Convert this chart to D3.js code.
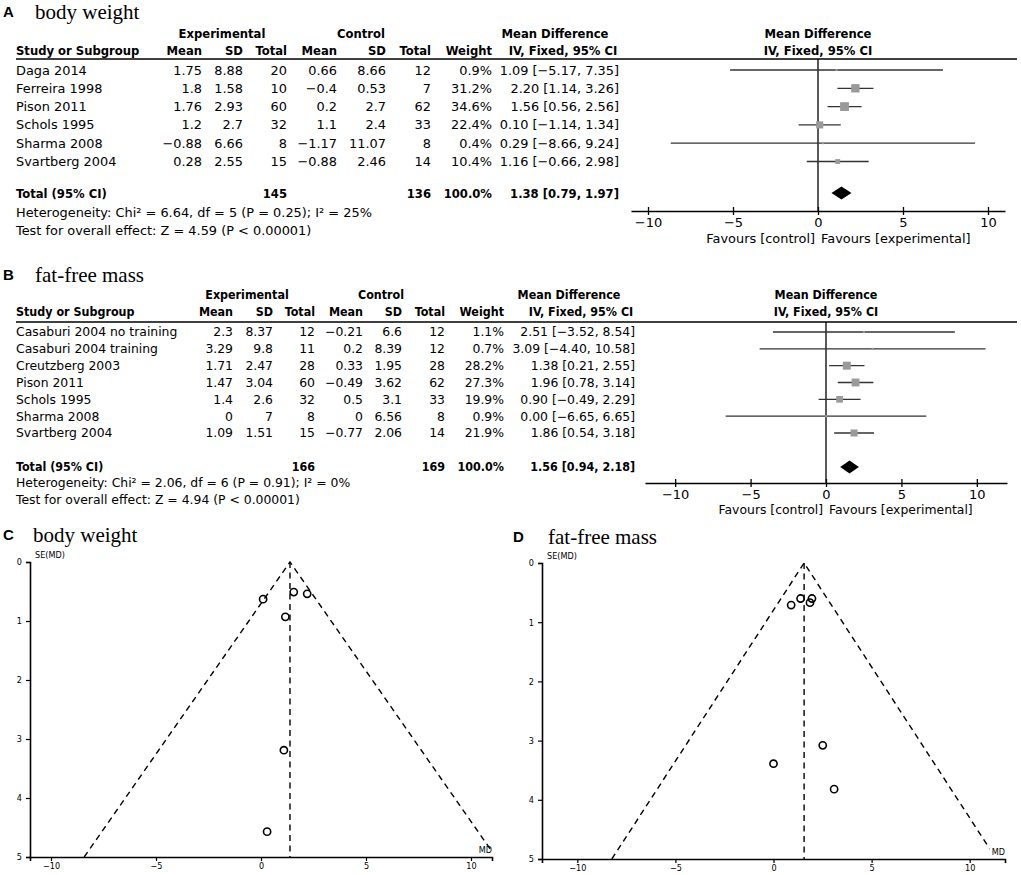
<!DOCTYPE html>
<html>
<head>
<meta charset="utf-8">
<script src="https://cdn.jsdelivr.net/npm/d3@7"></script>
<style>
  body { margin: 0; background: #fff; }
  svg { display: block; }
  .tb { font-family: "DejaVu Sans", sans-serif; fill: #000; }
  .tb .b { font-family: "DejaVu Sans Condensed", "DejaVu Sans", sans-serif; font-weight: bold; }
  .serif { font-family: "Liberation Serif", "Times New Roman", serif; }
  .lbl { font-family: Arial, "Liberation Sans", sans-serif; font-weight: bold; }
</style>
</head>
<body>
<svg id="fig" width="1021" height="875"></svg>
<script>
// ---- A: body weight
var bwStudies = ["Daga 2014", "Ferreira 1998", "Pison 2011", "Schols 1995", "Sharma 2008", "Svartberg 2004"];
var bwExpMean = [1.75, 1.8, 1.76, 1.2, -0.88, 0.28];
var bwExpSD   = [8.88, 1.58, 2.93, 2.7, 6.66, 2.55];
var bwExpN    = [20, 10, 60, 32, 8, 15];
var bwCtlMean = [0.66, -0.4, 0.2, 1.1, -1.17, -0.88];
var bwCtlSD   = [8.66, 0.53, 2.7, 2.4, 11.07, 2.46];
var bwCtlN    = [12, 7, 62, 33, 8, 14];
var bwWeight  = [0.9, 31.2, 34.6, 22.4, 0.4, 10.4];
var bwMD      = [1.09, 2.20, 1.56, 0.10, 0.29, 1.16];
var bwLo      = [-5.17, 1.14, 0.56, -1.14, -8.66, -0.66];
var bwHi      = [7.35, 3.26, 2.56, 1.34, 9.24, 2.98];
var bwTotalN  = [145, 136];
var bwTotalMD = [1.38, 0.79, 1.97];
var bwHet  = "Heterogeneity: Chi\u00b2 = 6.64, df = 5 (P = 0.25); I\u00b2 = 25%";
var bwTest = "Test for overall effect: Z = 4.59 (P < 0.00001)";
var bwSE   = [3.19, 0.54, 0.51, 0.63, 4.57, 0.93];   // funnel plot y values

// ---- B: fat-free mass
var ffStudies = ["Casaburi 2004 no training", "Casaburi 2004 training", "Creutzberg 2003", "Pison 2011",
                 "Schols 1995", "Sharma 2008", "Svartberg 2004"];
var ffExpMean = [2.3, 3.29, 1.71, 1.47, 1.4, 0, 1.09];
var ffExpSD   = [8.37, 9.8, 2.47, 3.04, 2.6, 7, 1.51];
var ffExpN    = [12, 11, 28, 60, 32, 8, 15];
var ffCtlMean = [-0.21, 0.2, 0.33, -0.49, 0.5, 0, -0.77];
var ffCtlSD   = [6.6, 8.39, 1.95, 3.62, 3.1, 6.56, 2.06];
var ffCtlN    = [12, 12, 28, 62, 33, 8, 14];
var ffWeight  = [1.1, 0.7, 28.2, 27.3, 19.9, 0.9, 21.9];
var ffMD      = [2.51, 3.09, 1.38, 1.96, 0.90, 0.00, 1.86];
var ffLo      = [-3.52, -4.40, 0.21, 0.78, -0.49, -6.65, 0.54];
var ffHi      = [8.54, 10.58, 2.55, 3.14, 2.29, 6.65, 3.18];
var ffTotalN  = [166, 169];
var ffTotalMD = [1.56, 0.94, 2.18];
var ffHet  = "Heterogeneity: Chi\u00b2 = 2.06, df = 6 (P = 0.91); I\u00b2 = 0%";
var ffTest = "Test for overall effect: Z = 4.94 (P < 0.00001)";
var ffSE   = [3.08, 3.82, 0.60, 0.60, 0.71, 3.39, 0.67];

var forestTicks = [-10, -5, 0, 5, 10];
var funnelYTicks = [0, 1, 2, 3, 4, 5];

var svg = d3.select("#fig");
var f2 = d3.format(".2f");
function num(v) { return String(v).replace("-", "\u2212"); }

function forest(d, L) {
  var g = svg.append("g").attr("class", "tb").style("font-size", L.fs + "px");
  var y = d3.scalePoint().domain(d.studies).range([L.row0, L.rowN]);
  var x = d3.scaleLinear().domain(L.dom).range(L.range);

  var t = svg.append("g");
  t.append("text").attr("class", "lbl").attr("x", 3).attr("y", L.title).attr("dy", "0.35em")
    .style("font-size", "15px").text(L.letter);
  t.append("text").attr("class", "serif").attr("x", 35).attr("y", L.title).attr("dy", "0.35em")
    .style("font-size", "21px").text(L.name);

  function txt(xx, yy, s, anchor, bold) {
    return g.append("text").attr("x", xx).attr("y", yy).attr("dy", "0.35em")
      .attr("class", bold ? "b" : null)
      .attr("text-anchor", anchor || "end").text(s);
  }

  // headers
  txt(L.expHdr, L.hdr1, "Experimental", "middle", true);
  txt(L.ctlHdr, L.hdr1, "Control", "middle", true);
  txt(L.mdHdr[0], L.hdr1, "Mean Difference", "middle", true);
  txt(L.mdHdr[1], L.hdr2, "IV, Fixed, 95% CI", "middle", true);
  txt(x(0), L.hdr1, "Mean Difference", "middle", true);
  txt(x(0), L.hdr2, "IV, Fixed, 95% CI", "middle", true);
  txt(16, L.hdr2, "Study or Subgroup", "start", true);
  ["Mean", "SD", "Total", "Mean", "SD", "Total", "Weight"].forEach(function(h, i) {
    txt(L.cols[i], L.hdr2, h, "end", true);
  });
  g.append("line").attr("x1", 16).attr("x2", 1017).attr("y1", L.line).attr("y2", L.line)
    .attr("stroke", "#000").attr("stroke-width", 1.3);

  // study rows
  d.studies.forEach(function(s, i) {
    var yy = y(s);
    txt(16, yy, s, "start");
    var cells = [num(d.expMean[i]), num(d.expSD[i]), d.expN[i], num(d.ctlMean[i]), num(d.ctlSD[i]), d.ctlN[i],
      d.weight[i].toFixed(1) + "%", f2(d.md[i]) + " [" + f2(d.lo[i]) + ", " + f2(d.hi[i]) + "]"];
    cells.forEach(function(c, j) { txt(L.cols[j], yy, c); });
  });

  // total row
  txt(16, L.total, "Total (95% CI)", "start", true);
  txt(L.cols[2], L.total, d.totalN[0], "end", true);
  txt(L.cols[5], L.total, d.totalN[1], "end", true);
  txt(L.cols[6], L.total, "100.0%", "end", true);
  txt(L.cols[7], L.total, f2(d.totalMD[0]) + " [" + f2(d.totalMD[1]) + ", " + f2(d.totalMD[2]) + "]", "end", true);
  txt(16, L.het, d.het, "start");
  txt(16, L.test, d.test, "start");

  // plot
  g.append("line").attr("x1", x(0)).attr("x2", x(0)).attr("y1", L.line).attr("y2", L.axisY)
    .attr("stroke", "#000").attr("stroke-width", 1.3);
  d.studies.forEach(function(s, i) {
    var yy = y(s);
    g.append("line").attr("x1", x(d.lo[i])).attr("x2", x(d.hi[i])).attr("y1", yy).attr("y2", yy)
      .attr("stroke", "#333").attr("stroke-width", 1.3);
    var sz = Math.max(2, 1.5 * Math.sqrt(d.weight[i]));
    g.append("rect").attr("x", x(d.md[i]) - sz / 2).attr("y", yy - sz / 2)
      .attr("width", sz).attr("height", sz).attr("fill", "#9a9a9a");
  });
  var T = d.totalMD;
  g.append("path")
    .attr("d", d3.line()([[x(T[1]), L.total], [x(T[0]), L.total - 6.5], [x(T[2]), L.total], [x(T[0]), L.total + 6.5]]) + "Z")
    .attr("fill", "#000");

  var ax = g.append("g").attr("transform", "translate(0," + L.axisY + ")")
    .call(d3.axisBottom(x).tickValues(forestTicks).tickSizeOuter(0).tickSizeInner(4).tickPadding(3));
  ax.attr("font-family", null).attr("font-size", null);
  ax.select(".domain").attr("stroke-width", 1.3);
  ax.selectAll(".tick line").attr("y1", -4).attr("y2", 4).attr("stroke-width", 1.3);
  ax.selectAll(".tick text").attr("fill", "#000").style("font-size", "13px");
  txt(x(0) - 3, L.fav, "Favours [control]", "end");
  txt(x(0) + 3, L.fav, "Favours [experimental]", "start");
}

function funnel(d, L) {
  var g = svg.append("g");
  var x = d3.scaleLinear().domain(L.dom).range([L.left, L.right]);
  var y = d3.scaleLinear().domain([0, 5]).range([L.top, L.bottom]);

  g.append("text").attr("class", "lbl").attr("x", L.lx).attr("y", L.title).attr("dy", "0.35em")
    .style("font-size", "15px").text(L.letter);
  g.append("text").attr("class", "serif").attr("x", L.nx).attr("y", L.title).attr("dy", "0.35em")
    .style("font-size", "21px").text(L.name);

  var clipId = "clip" + L.letter;
  g.append("clipPath").attr("id", clipId).append("rect")
    .attr("x", L.left).attr("y", L.top - 10).attr("width", x(11) - L.left).attr("height", L.bottom - L.top + 10);

  var m = d.pooled;
  var dash = "6,4.5";
  g.append("path").attr("clip-path", "url(#" + clipId + ")")
    .attr("d", d3.line()([[x(m - 1.96 * 5), y(5)], [x(m), y(0)], [x(m + 1.96 * 5), y(5)]]))
    .attr("fill", "none").attr("stroke", "#000").attr("stroke-width", 1.4).attr("stroke-dasharray", dash);
  g.append("line").attr("x1", x(m)).attr("x2", x(m)).attr("y1", y(0)).attr("y2", y(5))
    .attr("stroke", "#000").attr("stroke-width", 1.4).attr("stroke-dasharray", dash);

  g.selectAll("circle.pt").data(d.md).enter().append("circle").attr("class", "pt")
    .attr("cx", function(v) { return x(v); })
    .attr("cy", function(v, i) { return y(d.se[i]); })
    .attr("r", 3.6).attr("fill", "none").attr("stroke", "#000").attr("stroke-width", 1.6);

  var ya = g.append("g").attr("transform", "translate(" + L.left + ",0)")
    .call(d3.axisLeft(y).tickValues(funnelYTicks).tickFormat(d3.format("d")).tickSizeOuter(0).tickSize(4).tickPadding(4));
  var xa = g.append("g").attr("transform", "translate(0," + L.bottom + ")")
    .call(d3.axisBottom(x).tickValues(forestTicks).tickSizeOuter(0).tickSize(4).tickPadding(2));
  [ya, xa].forEach(function(a) {
    a.attr("font-family", "DejaVu Sans Condensed, DejaVu Sans, sans-serif").attr("font-size", 9);
    a.select(".domain").attr("stroke-width", 1.6);
    a.selectAll(".tick line").attr("stroke-width", 1.2);
    a.selectAll(".tick text").attr("fill", "#000");
  });
  g.append("text").attr("x", L.left + 5).attr("y", L.top - 4).style("font", "9px 'DejaVu Sans Condensed', 'DejaVu Sans'")
    .text("SE(MD)");
  g.append("text").attr("x", L.right).attr("y", L.bottom - 4).attr("text-anchor", "end")
    .style("font", "9px 'DejaVu Sans Condensed', 'DejaVu Sans'").text("MD");
}

forest({ studies: bwStudies, expMean: bwExpMean, expSD: bwExpSD, expN: bwExpN, ctlMean: bwCtlMean, ctlSD: bwCtlSD,
         ctlN: bwCtlN, weight: bwWeight, md: bwMD, lo: bwLo, hi: bwHi, totalN: bwTotalN, totalMD: bwTotalMD,
         het: bwHet, test: bwTest },
       { letter: "A", name: "body weight", fs: 12.9, title: 12, hdr1: 33, hdr2: 50, line: 59, row0: 70, rowN: 161.5,
         total: 193, het: 212, test: 230, axisY: 211, fav: 238, dom: [-11, 11], range: [631, 1005],
         cols: [202, 243, 287, 337, 386, 431, 492, 619], expHdr: 222, ctlHdr: 361, mdHdr: [555, 563] });

forest({ studies: ffStudies, expMean: ffExpMean, expSD: ffExpSD, expN: ffExpN, ctlMean: ffCtlMean, ctlSD: ffCtlSD,
         ctlN: ffCtlN, weight: ffWeight, md: ffMD, lo: ffLo, hi: ffHi, totalN: ffTotalN, totalMD: ffTotalMD,
         het: ffHet, test: ffTest },
       { letter: "B", name: "fat-free mass", fs: 12.4, title: 275, hdr1: 295, hdr2: 312, line: 322, row0: 332, rowN: 433,
         total: 467, het: 483, test: 500, axisY: 483, fav: 510, dom: [-12, 12], range: [645, 1007],
         cols: [233, 273, 315, 363, 402, 445, 504, 635], expHdr: 247, ctlHdr: 381, mdHdr: [569, 581] });

funnel({ md: bwMD, se: bwSE, pooled: bwTotalMD[0] },
       { letter: "C", name: "body weight", lx: 3, nx: 33, title: 535, dom: [-11, 11], left: 30, right: 492, top: 562, bottom: 857 });

funnel({ md: ffMD, se: ffSE, pooled: ffTotalMD[0] },
       { letter: "D", name: "fat-free mass", lx: 513, nx: 548, title: 537, dom: [-11.8, 11.8], left: 542, right: 1005, top: 563, bottom: 859 });
</script>
</body>
</html>
